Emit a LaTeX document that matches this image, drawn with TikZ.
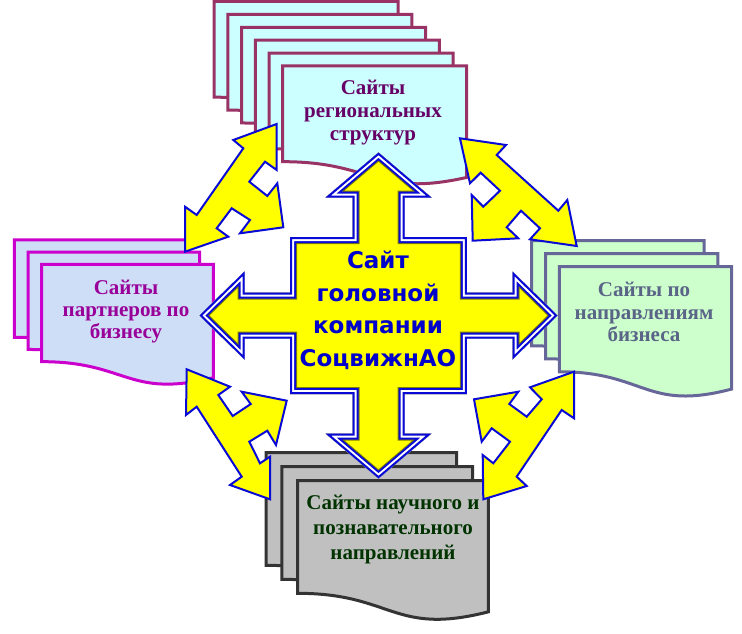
\documentclass[tikz,border=0pt]{standalone}
\usepackage{fontspec}
\setmainfont{Liberation Serif}
\newfontfamily\centerfont{DejaVu Sans}
\definecolor{arrowyellow}{RGB}{255,255,0}
\definecolor{arrowblue}{RGB}{10,10,215}
\definecolor{olivel}{RGB}{128,128,0}
\definecolor{topfill}{RGB}{204,255,255}
\definecolor{topline}{RGB}{153,51,102}
\definecolor{toptext}{RGB}{102,0,102}
\definecolor{leftfill}{RGB}{205,222,246}
\definecolor{leftline}{RGB}{204,0,204}
\definecolor{lefttext}{RGB}{153,0,153}
\definecolor{rightfill}{RGB}{204,255,204}
\definecolor{rightline}{RGB}{102,102,153}
\definecolor{righttext}{RGB}{90,100,135}
\definecolor{botfill}{RGB}{192,192,192}
\definecolor{botline}{RGB}{51,51,51}
\definecolor{bottext}{RGB}{0,51,0}
\definecolor{centertext}{RGB}{0,0,204}
\newcommand\docpg[5]{%
  \draw[#5] (#1,#2) -- ++(#3,0) -- ++(0,{0.934*#4})
    .. controls ({#1+0.5*#3},{#2+1.107*#4}) and ({#1+0.5*#3},{#2+0.802*#4}) ..
    ({#1},{#2+0.802*#4}) -- cycle;}
\newcommand\crosspath{(378.5,152.5) -- (431.5,197.5) -- (404.5,197.5) -- (404.5,237)
  -- (466.8,237) -- (466.8,292.5) -- (512.5,292.5) -- (512.5,271.5) -- (557.5,315.5)
  -- (512.5,359.5) -- (512.5,338.5) -- (466.8,338.5) -- (466.8,394) -- (404.5,394)
  -- (404.5,433.5) -- (431.5,433.5) -- (378.5,478.5) -- (325.5,433.5) -- (352.5,433.5)
  -- (352.5,394) -- (290.2,394) -- (290.2,338.5) -- (244.5,338.5) -- (244.5,359.5)
  -- (199.5,315.5) -- (244.5,271.5) -- (244.5,292.5) -- (290.2,292.5) -- (290.2,237)
  -- (352.5,237) -- (352.5,197.5) -- (325.5,197.5) -- cycle}
\begin{document}
\begin{tikzpicture}[x=1pt,y=-1pt,
  docbase/.style={line width=3pt, line join=miter},
  topdoc/.style={docbase, fill=topfill, draw=topline},
  leftdoc/.style={docbase, fill=leftfill, draw=leftline},
  rightdoc/.style={docbase, fill=rightfill, draw=rightline},
  botdoc/.style={docbase, fill=botfill, draw=botline},
  doctext/.style={anchor=base, inner sep=0pt},
  diagarrow/.style={fill=arrowyellow, draw=arrowblue, line width=2pt, line join=miter}]
\useasboundingbox (0,0) rectangle (742,634);
% document stacks
\foreach \i in {5,4,...,0} {\docpg{282.7-13.7*\i}{66-12.9*\i}{184}{119.3}{topdoc}}
\foreach \i in {2,1,0} {\docpg{41.7-13.7*\i}{264.3-12.2*\i}{171.6}{121.4}{leftdoc}}
\foreach \i in {2,1,0} {\docpg{559.3-13.8*\i}{266.7-13*\i}{172.4}{131}{rightdoc}}
\foreach \i in {2,1,0} {\docpg{297.7-15.8*\i}{480.7-14*\i}{190.6}{140.4}{botdoc}}
% document texts
\node[doctext, text=toptext, font=\fontsize{21}{22.8}\selectfont\bfseries] (toplbl) at (373,95)
  {\begin{tabular}[t]{@{}c@{}}Сайты\\региональных\\структур\end{tabular}};
\node[doctext, text=lefttext, font=\fontsize{21}{22.2}\selectfont\bfseries] (leftlbl) at (126,294)
  {\begin{tabular}[t]{@{}c@{}}Сайты\\партнеров по\\бизнесу\end{tabular}};
\node[doctext, text=righttext, font=\fontsize{21}{22.5}\selectfont\bfseries] (rightlbl) at (644,296.7)
  {\begin{tabular}[t]{@{}c@{}}Сайты по\\направлениям\\бизнеса\end{tabular}};
\node[doctext, text=bottext, font=\fontsize{21}{25.3}\selectfont\bfseries] (botlbl) at (393,509.3)
  {\begin{tabular}[t]{@{}c@{}}Сайты научного и\\познавательного\\направлений\end{tabular}};
% diagonal three-headed arrows
\draw[diagarrow] (276.7,124) -- (276.7,170) -- (265,161.7) -- (249.3,181.7) -- (267.3,196)
  -- (277.3,183.3) -- (283.3,227.3) -- (240,233.3) -- (250,220) -- (231.7,208.3)
  -- (216.7,228.3) -- (228.3,236.7) -- (185,251.7) -- (185,206.7) -- (196.7,215)
  -- (243.3,148.3) -- (233.3,140) -- cycle;
\draw[diagarrow] (460,138.3) -- (506,145) -- (496.7,155) -- (558.3,210.7) -- (567.3,200)
  -- (576.7,246) -- (530,239.3) -- (540,228.3) -- (521,210.7) -- (506.7,227.3)
  -- (518.3,238.3) -- (472.7,240.7) -- (471.7,195) -- (483.3,206.7) -- (500,190.7)
  -- (480.7,172.7) -- (470,183.3) -- cycle;
\draw[diagarrow] (186.7,369.3) -- (230,386.7) -- (218.3,395) -- (232.7,416) -- (250.7,404)
  -- (241.7,391.7) -- (286.7,400.7) -- (276,445) -- (267.3,430.7) -- (249.3,441.7)
  -- (260,463.3) -- (270,456.7) -- (270,499.3) -- (230,485) -- (241.7,476.7)
  -- (196.7,406.7) -- (186,415) -- cycle;
\draw[diagarrow] (574,371.7) -- (530,387.3) -- (541.7,399.3) -- (526.7,416.7) -- (509.3,404)
  -- (518.3,391.7) -- (474,399.3) -- (481.7,441.7) -- (491.7,428.3) -- (510,441.7)
  -- (493.3,463.3) -- (482.7,455) -- (483.3,499.3) -- (526.7,486) -- (516.7,476.7)
  -- (561.7,410) -- (574,418.3) -- cycle;
% central four-headed arrow with multi-line border
\begin{scope}
  \clip \crosspath;
  \fill[arrowyellow] \crosspath;
  \draw[olivel, line width=14pt, line join=miter] \crosspath;
  \draw[arrowblue, line width=12pt, line join=miter] \crosspath;
  \draw[white, line width=8pt, line join=miter] \crosspath;
  \draw[arrowblue, line width=4pt, line join=miter] \crosspath;
\end{scope}
\node[doctext, text=centertext, font=\centerfont\fontsize{23}{32.8}\selectfont\bfseries] (centerlbl) at (378,268.3)
  {\begin{tabular}[t]{@{}c@{}}Сайт\\головной\\компании\\СоцвижнАО\end{tabular}};
\end{tikzpicture}
\end{document}
